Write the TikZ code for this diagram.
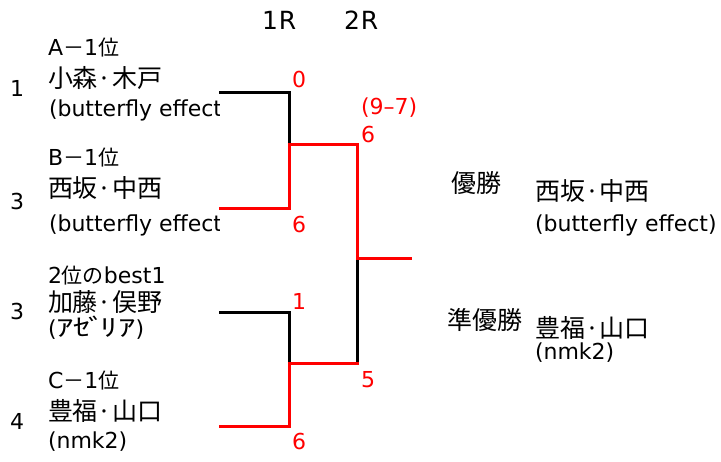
\documentclass[tikz,border=0pt]{standalone}
\usepackage{fontspec}
\setmainfont{DejaVu Sans}
\newfontfamily\JPfam{Noto Sans CJK JP}
\newfontfamily\JPwide[FakeStretch=1.45]{Noto Sans CJK JP}
\newcommand\JPs[1]{{\JPfam\fontsize{21}{21}\selectfont #1}}
\newcommand\JPn[1]{{\JPfam\fontsize{25}{25}\selectfont #1}}
\newcommand\JPk[1]{{\JPwide\fontsize{24}{24}\selectfont #1}}
\tikzset{
  btxt/.style={anchor=base west,inner sep=0pt,outer sep=0pt,font=\fontsize{22}{22}\selectfont},
  bscore/.style={btxt,text=red},
  bhead/.style={btxt,font=\fontsize{25}{25}\selectfont},
  winline/.style={draw=red,line width=3pt,line cap=rect},
  loseline/.style={draw=black,line width=3pt,line cap=rect}}
\begin{document}
\begin{tikzpicture}[x=1pt,y=-1pt]
\useasboundingbox (0,0) rectangle (721,462);
% headers
\node[bhead] (h1) at (262,30) {1\kern1ptR};
\node[bhead] (h2) at (344,30) {2\kern1ptR};
% seeds
\node[btxt] (s1) at (10,97) {1};
\node[btxt] (s2) at (10,210) {3};
\node[btxt] (s3) at (10,320) {3};
\node[btxt] (s4) at (10,430) {4};
% left entries (clipped at the bracket)
\begin{scope}
\clip (0,0) rectangle (219,462);
\node[btxt] (a1) at (48,56) {A\JPs{－}1\JPs{位}};
\node[btxt] (a2) at (48,88) {\JPn{小森·木戸}};
\node[btxt] (a3) at (49,117) {(butterfly effect)};
\node[btxt] (b1) at (48,166) {B\JPs{－}1\JPs{位}};
\node[btxt] (b2) at (48,198) {\JPn{西坂·中西}};
\node[btxt] (b3) at (49,232) {(butterfly effect)};
\node[btxt] (c1) at (48,284) {2\JPs{位の}best1};
\node[btxt] (c2) at (48,312) {\JPn{加藤·俣野}};
\node[btxt] (c3) at (48,337) {(\JPk{ｱｾ\kern-3ptﾞ\kern-5ptﾘｱ})};
\node[btxt] (d1) at (48,389) {C\JPs{－}1\JPs{位}};
\node[btxt] (d2) at (48,421) {\JPn{豊福·山口}};
\node[btxt] (d3) at (48,449) {(nmk2)};
\end{scope}
% bracket coordinates
\coordinate (e1) at (220,93);
\coordinate (e1c) at (289,93);
\coordinate (e2) at (220,209);
\coordinate (e2c) at (289,209);
\coordinate (m1) at (289,145);
\coordinate (m1c) at (357,145);
\coordinate (e3) at (220,313);
\coordinate (e3c) at (289,313);
\coordinate (e4) at (220,427);
\coordinate (e4c) at (289,427);
\coordinate (m2) at (289,364);
\coordinate (m2c) at (357,364);
\coordinate (fj) at (357,259);
\coordinate (fe) at (410,259);
% lines
\draw[loseline] (e1) -- (e1c) -- (m1);
\draw[loseline] (e3) -- (e3c) -- (m2);
\draw[loseline] (fj) -- (m2c);
\draw[winline] (e2) -- (e2c) -- (m1) -- (m1c) -- (fj);
\draw[winline] (e4) -- (e4c) -- (m2) -- (m2c);
\draw[winline] (fj) -- (fe);
% scores
\node[bscore] (r1) at (292,88) {0};
\node[bscore] (r2) at (292,233) {6};
\node[bscore] (r3) at (361,115) {(9–7)};
\node[bscore] (r4) at (361,143) {6};
\node[bscore] (r5) at (292,310) {1};
\node[bscore] (r6) at (361,388) {5};
\node[bscore] (r7) at (292,450) {6};
% results
\node[btxt] (w0) at (451,193) {\JPn{優勝}};
\node[btxt] (u0) at (447,330) {\JPn{準優勝}};
\node[btxt] (w1) at (535,201) {\JPn{西坂·中西}};
\node[btxt] (w2) at (535,232) {(butterfly effect)};
\node[btxt] (u1) at (535,338) {\JPn{豊福·山口}};
\node[btxt] (u2) at (535,360) {(nmk2)};
\end{tikzpicture}
\end{document}
